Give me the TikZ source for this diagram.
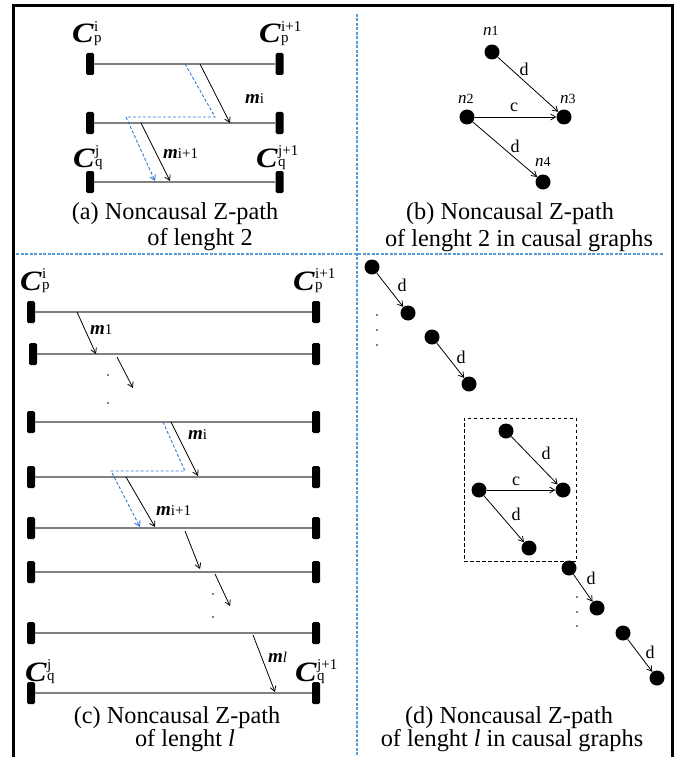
\documentclass[tikz,border=0pt]{standalone}
\usepackage{fontspec}
\setmainfont{Liberation Serif}
\usetikzlibrary{arrows.meta}

\definecolor{divblue}{HTML}{5B9BD5}
\definecolor{pathblue}{HTML}{2E7BCF}
\definecolor{tlgray}{HTML}{808080}

% process label C with super- and subscript
\newcommand\Cfnt{\fontsize{28}{28}\selectfont\bfseries\itshape}
\newcommand\supsz{\fontsize{15}{15}\selectfont}
\newcommand\CLab[2]{\scalebox{1.15}[1]{\Cfnt C}\kern0.5pt\rlap{\raisebox{11.5pt}{\supsz #1}}\raisebox{0.5pt}{\supsz #2}}
% message label m with index
\newcommand\MLab[1]{{\fontsize{19}{19}\selectfont\bfseries\itshape m}{\supsz #1}}
% graph node label n with index
\newcommand\NLab[1]{{\fontsize{17}{17}\selectfont\itshape n}{\fontsize{14}{14}\selectfont #1}}

\begin{document}
\begin{tikzpicture}[x=1pt,y=-1pt,
  bar/.style={fill=black, rounded corners=1.5pt, minimum width=8pt, minimum height=22pt, inner sep=0pt},
  timeline/.style={draw=tlgray, line width=1.3pt},
  msg/.style={-{Straight Barb[length=5pt,width=6pt]}, line width=0.8pt},
  zpath/.style={draw=pathblue, dash pattern=on 3pt off 2pt, line width=0.9pt, -{Straight Barb[length=5pt,width=6pt]}},
  gnode/.style={circle, fill=black, minimum size=15pt, inner sep=0pt},
  tinydot/.style={circle, fill=black, minimum size=1.6pt, inner sep=0pt},
  gedge/.style={-{Straight Barb[length=5pt,width=6pt]}, line width=0.8pt},
  elab/.style={font=\fontsize{18}{18}\selectfont, inner sep=0pt},
  captext/.style={font=\fontsize{24.3}{24.3}\selectfont, anchor=base, inner sep=0pt},
  lab/.style={anchor=base west, inner sep=0pt},
  divider/.style={draw=divblue, line width=1.2pt, dash pattern=on 3pt off 1.5pt},
]
\useasboundingbox (0,0) rectangle (694,757);

% outer frame and panel dividers
\draw[line width=3pt] (13.5,757) -- (13.5,5.5) -- (672,5.5) -- (672,757);
\draw[divider] (357,14) -- (357,757);
\draw[divider] (16,254) -- (664,254);

% ---------- (a) ----------
\foreach \r/\y in {1/64,2/123,3/182} {
  \node[bar] (a\r L) at (90,\y) {};
  \node[bar] (a\r R) at (279.5,\y) {};
  \draw[timeline] (a\r L.east) -- (a\r R.west);
}
\node[lab] (aCpi)  at (72,43)  {\CLab{i}{p}};
\node[lab] (aCpi1) at (259,43) {\CLab{i+1}{p}};
\node[lab] (aCqj)  at (73,167) {\CLab{j}{q}};
\node[lab] (aCqj1) at (256,167) {\CLab{j+1}{q}};

\coordinate (az1) at (185,64);
\coordinate (az2) at (215,117);
\coordinate (az3) at (126,117);
\coordinate (az4) at (155,181);
\draw[zpath] (az1) -- (az2) -- (az3) -- (az4);

\coordinate (ami-s) at (200,64);
\coordinate (ami-e) at (230,123);
\draw[msg] (ami-s) -- (ami-e);
\coordinate (amj-s) at (141,123);
\coordinate (amj-e) at (170,181);
\draw[msg] (amj-s) -- (amj-e);
\node[lab] (amil) at (245,104) {\MLab{i}};
\node[lab] (amjl) at (163,158) {\MLab{i+1}};

\node[captext] (capa1) at (175,219) {(a) Noncausal Z-path};
\node[captext] (capa2) at (200,245) {of lenght 2};

% ---------- (b) ----------
\node[gnode] (n1) at (492,52) {};
\node[gnode] (n2) at (467,117) {};
\node[gnode] (n3) at (564,117) {};
\node[gnode] (n4) at (543,182) {};
\node[lab] (n1l) at (483,36)  {\NLab{1}};
\node[lab] (n2l) at (458,104) {\NLab{2}};
\node[lab] (n3l) at (560,104) {\NLab{3}};
\node[lab] (n4l) at (535,166) {\NLab{4}};
\draw[gedge] (n1) -- (n3);
\draw[gedge] (n2) -- (n3);
\draw[gedge] (n2) -- (n4);
\node[elab] (e13) at (524,69)  {d};
\node[elab] (e23) at (514,107) {c};
\node[elab] (e24) at (515,146) {d};

\node[captext] (capb1) at (510,219) {(b) Noncausal Z-path};
\node[captext] (capb2) at (519,246) {of lenght 2 in causal graphs};

% ---------- (c) ----------
\foreach \r/\y/\xl in {1/312/31,2/354/33,3/422/31,4/477/31,5/528/31,6/572/31,7/633/31,8/693/31} {
  \node[bar] (c\r L) at (\xl,\y) {};
  \node[bar] (c\r R) at (316,\y) {};
  \draw[timeline] (c\r L.east) -- (c\r R.west);
}
\node[lab] (cCpi)  at (20,290)  {\CLab{i}{p}};
\node[lab] (cCpi1) at (293,290) {\CLab{i+1}{p}};
\node[lab] (cCqj)  at (25,681)  {\CLab{j}{q}};
\node[lab] (cCqj1) at (295,681) {\CLab{j+1}{q}};

\coordinate (cm1-s) at (77,312);
\coordinate (cm1-e) at (96,354);
\draw[msg] (cm1-s) -- (cm1-e);
\node[lab] (cm1l) at (90,334) {\MLab{1}};
\coordinate (cx1-s) at (117,357);
\coordinate (cx1-e) at (133,388);
\draw[msg] (cx1-s) -- (cx1-e);
\node[tinydot] (cd1) at (108,375) {};
\node[tinydot] (cd2) at (108,403) {};

\coordinate (cz1) at (163,422);
\coordinate (cz2) at (185,471);
\coordinate (cz3) at (111,471);
\coordinate (cz4) at (140,527);
\draw[zpath] (cz1) -- (cz2) -- (cz3) -- (cz4);

\coordinate (cmi-s) at (171,422);
\coordinate (cmi-e) at (198,476);
\draw[msg] (cmi-s) -- (cmi-e);
\node[lab] (cmil) at (188,439) {\MLab{i}};
\coordinate (cmj-s) at (126,477);
\coordinate (cmj-e) at (155,527);
\draw[msg] (cmj-s) -- (cmj-e);
\node[lab] (cmjl) at (156,515) {\MLab{i+1}};

\coordinate (cx2-s) at (185,531);
\coordinate (cx2-e) at (200,569);
\draw[msg] (cx2-s) -- (cx2-e);
\coordinate (cx3-s) at (215,574);
\coordinate (cx3-e) at (230,606);
\draw[msg] (cx3-s) -- (cx3-e);
\node[tinydot] (cd3) at (213,594) {};
\node[tinydot] (cd4) at (213,617) {};

\coordinate (cml-s) at (253,635);
\coordinate (cml-e) at (275,692);
\draw[msg] (cml-s) -- (cml-e);
\node[lab] (cmll) at (268,662) {{\fontsize{19}{19}\selectfont\bfseries\itshape m}{\supsz\itshape l}};

\node[captext] (capc1) at (177,723) {(c) Noncausal Z-path};
\node[captext] (capc2) at (185,746) {of lenght \textit{l}};

% ---------- (d) ----------
\node[draw, dash pattern=on 3.5pt off 2.5pt, line width=0.9pt, minimum width=112pt, minimum height=143pt, inner sep=0pt] (grp) at (520,489.5) {};

\node[gnode] (A1) at (372,267) {};
\node[gnode] (A2) at (408,313) {};
\node[gnode] (A3) at (432,337) {};
\node[gnode] (A4) at (469,384) {};
\draw[gedge] (A1) -- (A2);
\draw[gedge] (A3) -- (A4);
\node[elab] (eA12) at (402,285) {d};
\node[elab] (eA34) at (461,357) {d};
\node[tinydot] (dA1) at (377,315) {};
\node[tinydot] (dA2) at (377,330) {};
\node[tinydot] (dA3) at (377,345) {};

\node[gnode] (B1) at (506,431) {};
\node[gnode] (B2) at (479,490) {};
\node[gnode] (B3) at (563,490) {};
\node[gnode] (B4) at (529,548) {};
\draw[gedge] (B1) -- (B3);
\draw[gedge] (B2) -- (B3);
\draw[gedge] (B2) -- (B4);
\node[elab] (eB13) at (546,453) {d};
\node[elab] (eB23) at (516,481) {c};
\node[elab] (eB24) at (516,514) {d};

\node[gnode] (C1) at (569,568) {};
\node[gnode] (C2) at (597,608) {};
\node[gnode] (C3) at (623,633) {};
\node[gnode] (C4) at (657,678) {};
\draw[gedge] (C1) -- (C2);
\draw[gedge] (C3) -- (C4);
\node[elab] (eC12) at (591,578) {d};
\node[elab] (eC34) at (650,652) {d};
\node[tinydot] (dC1) at (577,597) {};
\node[tinydot] (dC2) at (577,612) {};
\node[tinydot] (dC3) at (577,626) {};

\node[captext] (capd1) at (509,723) {(d) Noncausal Z-path};
\node[captext] (capd2) at (512,746) {of lenght \textit{l} in causal graphs};

\end{tikzpicture}
\end{document}
